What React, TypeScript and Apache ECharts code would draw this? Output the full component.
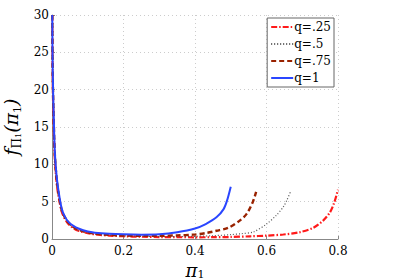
import React, { useEffect, useRef } from "react";
import * as echarts from "echarts";

const xTicks = [0, 0.2, 0.4, 0.6, 0.8];
const yTicks = [0, 5, 10, 15, 20, 25, 30];
const seriesNames = ["q=.25", "q=.5", "q=.75", "q=1"];

const q025: [number, number][] = [
  [0.0008, 30], [0.002, 21], [0.0056, 13.5], [0.0084, 10.3], [0.013, 7.5], [0.018, 5.8], [0.027, 3.7],
  [0.036, 2.7], [0.046, 2.0], [0.06, 1.45], [0.074, 1.1], [0.1, 0.78], [0.12, 0.62], [0.16, 0.46],
  [0.2, 0.37], [0.25, 0.3], [0.3, 0.26], [0.35, 0.24], [0.4, 0.23], [0.45, 0.24], [0.5, 0.27],
  [0.554, 0.36], [0.6, 0.45], [0.647, 0.6], [0.694, 0.92], [0.731, 1.5], [0.759, 2.5],
  [0.778, 3.6], [0.79, 4.95], [0.8, 6.6],
];
const q05: [number, number][] = [
  [0.0008, 30], [0.002, 21.5], [0.0056, 14], [0.0084, 10.6], [0.013, 7.8], [0.018, 6.0], [0.027, 3.8],
  [0.036, 2.8], [0.046, 2.1], [0.06, 1.5], [0.074, 1.15], [0.1, 0.82], [0.12, 0.66], [0.16, 0.5],
  [0.2, 0.42], [0.25, 0.36], [0.3, 0.33], [0.35, 0.33], [0.4, 0.36], [0.45, 0.44], [0.5, 0.58],
  [0.53, 0.72], [0.563, 0.94], [0.6, 2.0], [0.628, 3.2], [0.647, 4.3], [0.657, 5.2], [0.667, 6.3],
];
const q075: [number, number][] = [
  [0.0008, 30], [0.002, 22], [0.0056, 14.5], [0.0084, 10.9], [0.013, 8.0], [0.018, 6.2], [0.027, 3.9],
  [0.036, 2.9], [0.046, 2.2], [0.06, 1.6], [0.074, 1.25], [0.1, 0.88], [0.12, 0.72], [0.16, 0.55],
  [0.2, 0.47], [0.25, 0.43], [0.3, 0.43], [0.35, 0.48], [0.395, 0.58], [0.433, 0.82], [0.46, 1.1],
  [0.493, 1.5], [0.526, 2.5], [0.545, 3.4], [0.562, 5.0], [0.571, 6.3],
];
const q1: [number, number][] = [
  [0.0008, 30], [0.002, 22.5], [0.0056, 15], [0.0084, 11.2], [0.013, 8.4], [0.018, 6.5], [0.027, 4.1],
  [0.036, 3.0], [0.046, 2.3], [0.06, 1.75], [0.074, 1.4], [0.1, 1.0], [0.12, 0.85], [0.16, 0.7],
  [0.2, 0.62], [0.25, 0.58], [0.3, 0.63], [0.35, 0.9], [0.4, 1.4], [0.43, 2.0], [0.46, 2.9],
  [0.48, 4.0], [0.49, 5.2], [0.5, 7.0],
];

export default function App() {
  const ref = useRef<HTMLDivElement>(null);
  useEffect(() => {
    document.body.style.margin = "0";
    if (!ref.current) return;
    const chart = echarts.init(ref.current, null, { renderer: "svg" });
    const serif = "DejaVu Serif";
    const mk = (name: string, data: [number, number][], color: string, type: any, width: number) => ({
      name,
      type: "line",
      data,
      smooth: 0.3,
      showSymbol: false,
      symbol: "none",
      clip: true,
      lineStyle: { color, width, type },
      itemStyle: { color },
    });
    chart.setOption({
      animation: false,
      backgroundColor: "#fff",
      textStyle: { fontFamily: serif },
      grid: { left: 52, right: 62, top: 15, bottom: 39, outerBoundsMode: "none", containLabel: false },
      legend: {
        right: 66,
        top: 18,
        orient: "vertical",
        itemGap: 5,
        itemWidth: 22,
        itemHeight: 14,
        padding: [3, 3, 3, 3],
        borderColor: "#666",
        borderWidth: 1,
        backgroundColor: "#fff",
        itemStyle: { opacity: 0 },
        textStyle: { fontFamily: serif, fontSize: 12, color: "#000", padding: [0, 0, 0, -4] },
        data: seriesNames,
      },
      xAxis: {
        type: "value",
        min: 0,
        max: 0.8,
        interval: 0.2,
        name: "{i|π}{s|1}",
        nameLocation: "middle",
        nameGap: 6,
        nameTextStyle: {
          rich: {
            i: { fontFamily: serif, fontSize: 18, fontStyle: "italic", color: "#000", lineHeight: 18, verticalAlign: "middle" },
            s: { fontFamily: serif, fontSize: 11, color: "#000", lineHeight: 18, verticalAlign: "bottom" },
          },
        },
        axisLine: { lineStyle: { color: "#888" } },
        axisTick: { inside: true, length: 3, lineStyle: { color: "#888" } },
        axisLabel: {
          fontFamily: serif,
          fontSize: 12,
          color: "#000",
          margin: 6,
        },
        splitLine: { show: true, lineStyle: { color: "#ccc", type: [1, 3] } },
      },
      yAxis: {
        type: "value",
        min: 0,
        max: 30,
        interval: 5,
        name: "{f|f}{s|Π}{t|1}{p|(π}{t2|1}{p|)}",
        nameLocation: "middle",
        nameGap: 18,
        nameRotate: 90,
        nameTextStyle: {
          rich: {
            f: { fontFamily: serif, fontSize: 19, fontStyle: "italic", color: "#000", lineHeight: 24 },
            s: { fontFamily: serif, fontSize: 12, color: "#000", lineHeight: 24, verticalAlign: "bottom" },
            t: { fontFamily: serif, fontSize: 8, color: "#000", lineHeight: 24, verticalAlign: "bottom" },
            p: { fontFamily: serif, fontSize: 19, fontStyle: "italic", color: "#000", lineHeight: 24 },
            t2: { fontFamily: serif, fontSize: 11, color: "#000", lineHeight: 24, verticalAlign: "bottom" },
          },
        },
        axisLine: { show: true, lineStyle: { color: "#888" } },
        axisTick: { show: true, inside: true, length: 3, lineStyle: { color: "#888" } },
        axisLabel: { fontFamily: serif, fontSize: 12, color: "#000", margin: 3 },
        splitLine: { show: true, lineStyle: { color: "#ccc", type: [1, 3] } },
      },
      series: [
        mk("q=.25", q025, "#ff1a1a", [6, 2, 1.5, 2], 2.2),
        mk("q=.5", q05, "#555555", [1, 2], 1.2),
        mk("q=.75", q075, "#992200", [5, 3], 2.4),
        mk("q=1", q1, "#2a46ff", "solid", 2),
      ],
    });
    return () => chart.dispose();
  }, []);
  return <div ref={ref} style={{ width: 400, height: 278 }} />;
}
